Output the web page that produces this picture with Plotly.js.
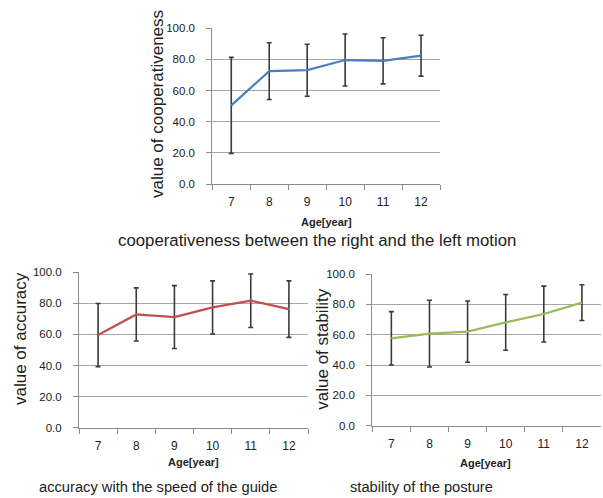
<!DOCTYPE html>
<html>
<head>
<meta charset="utf-8">
<script src="https://cdn.plot.ly/plotly-3.0.1.min.js"></script>
<style>html,body{margin:0;padding:0;background:#fff;}#chart{width:603px;height:498px;}</style>
</head>
<body>
<div id="chart"></div>
<script>
// ---- data ----
var ages = ["7", "8", "9", "10", "11", "12"];
var yTickVals = [0, 20, 40, 60, 80, 100];

var coopMean = [50.5, 72.5, 73.1, 79.6, 79.1, 82.4];
var coopSD   = [30.8, 18.2, 16.7, 16.7, 14.8, 13.1];

var accMean = [59.6, 72.9, 71.2, 77.4, 81.7, 76.3];
var accSD   = [20.3, 17.1, 20.2, 17.1, 17.2, 18.2];

var stabMean = [57.6, 60.7, 62.0, 68.1, 73.6, 81.1];
var stabSD   = [17.6, 22.0, 20.2, 18.4, 18.4, 11.8];

var yTitles = ["value of cooperativeness", "value of accuracy", "value of stability"];
var captions = ["cooperativeness between the right and the left motion",
                "accuracy with the speed of the guide",
                "stability of the posture"];
var xTitle = "Age[year]";

// ---- layout helpers ----
var W = 603, H = 498;
function px(x) { return x / W; }
function py(y) { return 1 - y / H; }

var FONT = "Liberation Sans, Arial, sans-serif";

function trace(mean, sd, color, xa, ya) {
  return {
    type: "scatter", mode: "lines",
    x: ages, y: mean, xaxis: xa, yaxis: ya,
    line: {color: color, width: 2.2},
    error_y: {type: "data", array: sd, visible: true, color: "#3a3a3a", thickness: 1.6, width: 2.5},
    hoverinfo: "skip", showlegend: false
  };
}

function xAxis(dom, anchor) {
  return {
    domain: dom, anchor: anchor, type: "category",
    range: [-0.5, ages.length - 0.5],
    showgrid: false, zeroline: false,
    showline: true, linecolor: "#8c8c8c", linewidth: 1,
    ticks: "outside", tickson: "boundaries", ticklen: 5, tickcolor: "#8c8c8c",
    tickfont: {family: FONT, size: 12, color: "#222"},
    ticklabelstandoff: 7,
    fixedrange: true
  };
}
function yAxis(dom, anchor) {
  return {
    domain: dom, anchor: anchor, range: [0, 100],
    tickvals: yTickVals, tickformat: ".1f",
    showgrid: true, gridcolor: "#a6a6a6", gridwidth: 1,
    zeroline: false,
    showline: true, linecolor: "#8c8c8c", linewidth: 1,
    ticks: "outside", ticklen: 5, tickcolor: "#8c8c8c",
    tickfont: {family: FONT, size: 11.5, color: "#222"},
    ticklabelstandoff: 9,
    fixedrange: true
  };
}

var data = [
  trace(coopMean, coopSD, "#4a7ebf", "x", "y"),
  trace(accMean, accSD, "#c0504d", "x2", "y2"),
  trace(stabMean, stabSD, "#9bbb59", "x3", "y3")
];

function ann(text, x, y, size, opts) {
  var a = {text: text, xref: "paper", yref: "paper", x: px(x), y: py(y),
           xanchor: "center", yanchor: "middle", showarrow: false,
           font: {family: FONT, size: size, color: "#222"}};
  for (var k in opts) a[k] = opts[k];
  return a;
}

var layout = {
  width: W, height: H,
  margin: {l: 0, r: 0, t: 0, b: 0},
  paper_bgcolor: "#fff", plot_bgcolor: "#fff",
  xaxis:  xAxis([px(212.3), px(440)], "y"),
  yaxis:  yAxis([py(184), py(28.3)], "x"),
  xaxis2: xAxis([px(79), px(308)], "y2"),
  yaxis2: yAxis([py(427.7), py(272.3)], "x2"),
  xaxis3: xAxis([px(372.3), px(601)], "y3"),
  yaxis3: yAxis([py(425.7), py(274)], "x3"),
  annotations: [
    ann(yTitles[0], 158, 104, 17, {textangle: -90}),
    ann(yTitles[1], 20, 339, 17, {textangle: -90}),
    ann(yTitles[2], 321.7, 349, 17, {textangle: -90}),
    ann("<b>" + xTitle + "</b>", 326.7, 222.3, 11),
    ann("<b>" + xTitle + "</b>", 193.3, 461.7, 11),
    ann("<b>" + xTitle + "</b>", 485, 463.3, 11),
    ann(captions[0], 316.5, 240, 16.8),
    ann(captions[1], 157.5, 487, 14.7),
    ann(captions[2], 421.7, 487, 14.7)
  ]
};

Plotly.newPlot("chart", data, layout, {displayModeBar: false, staticPlot: true});
</script>
</body>
</html>
